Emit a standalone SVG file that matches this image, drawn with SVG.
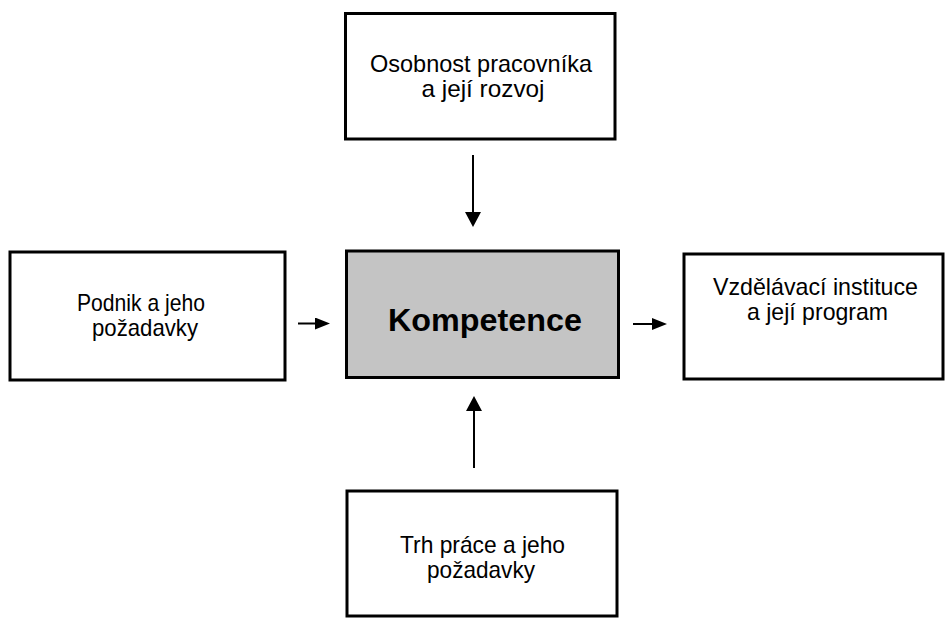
<svg xmlns="http://www.w3.org/2000/svg" width="952" height="619" viewBox="0 0 952 619">
  <style>
    .box { fill: #ffffff; stroke: #000000; stroke-width: 3; }
    .core { fill: #c4c4c4; stroke: #000000; stroke-width: 3; }
    .lbl { font-family: "Liberation Sans", Arial, sans-serif; font-size: 24px; fill: #000000; text-anchor: middle; }
    .title { font-family: "Liberation Sans", Arial, sans-serif; font-size: 32px; font-weight: bold; fill: #000000; text-anchor: middle; }
    .link { stroke: #000000; stroke-width: 2; fill: none; }
  </style>
  <defs>
    <marker id="head-v" markerUnits="userSpaceOnUse" markerWidth="15" markerHeight="16" refX="0" refY="8" orient="auto">
      <path d="M0,0 L15,8 L0,16 Z" fill="#000000"/>
    </marker>
    <marker id="head-h" markerUnits="userSpaceOnUse" markerWidth="15" markerHeight="12" refX="0" refY="6" orient="auto">
      <path d="M0,0 L15,6 L0,12 Z" fill="#000000"/>
    </marker>
  </defs>

  <rect x="0" y="0" width="952" height="619" fill="#ffffff"/>

  <g id="osobnost">
    <rect class="box" x="345.5" y="13.5" width="269.5" height="125.5"/>
    <text class="lbl" x="481" y="72" textLength="222" lengthAdjust="spacingAndGlyphs">Osobnost pracovníka</text>
    <text class="lbl" x="483" y="97" textLength="123" lengthAdjust="spacingAndGlyphs">a její rozvoj</text>
  </g>

  <g id="podnik">
    <rect class="box" x="10" y="252" width="275" height="128"/>
    <text class="lbl" x="141" y="311" textLength="128" lengthAdjust="spacingAndGlyphs">Podnik a jeho</text>
    <text class="lbl" x="145" y="336" textLength="106" lengthAdjust="spacingAndGlyphs">požadavky</text>
  </g>

  <g id="kompetence">
    <rect class="core" x="346.5" y="251" width="272" height="126.5"/>
    <text class="title" x="485" y="331" textLength="194" lengthAdjust="spacingAndGlyphs">Kompetence</text>
  </g>

  <g id="vzdelavaci-instituce">
    <rect class="box" x="684" y="254" width="259" height="125"/>
    <text class="lbl" x="815.5" y="295" textLength="205" lengthAdjust="spacingAndGlyphs">Vzdělávací instituce</text>
    <text class="lbl" x="817.5" y="320" textLength="141" lengthAdjust="spacingAndGlyphs">a její program</text>
  </g>

  <g id="trh-prace">
    <rect class="box" x="347" y="491" width="270" height="125"/>
    <text class="lbl" x="482.5" y="553" textLength="165" lengthAdjust="spacingAndGlyphs">Trh práce a jeho</text>
    <text class="lbl" x="481" y="578" textLength="108" lengthAdjust="spacingAndGlyphs">požadavky</text>
  </g>

  <g id="connectors">
    <line class="link" x1="473" y1="155" x2="473" y2="212" marker-end="url(#head-v)"/>
    <line class="link" x1="474" y1="468" x2="474" y2="411" marker-end="url(#head-v)"/>
    <line class="link" x1="298" y1="323.5" x2="315" y2="323.5" marker-end="url(#head-h)"/>
    <line class="link" x1="633" y1="324" x2="652" y2="324" marker-end="url(#head-h)"/>
  </g>
</svg>
